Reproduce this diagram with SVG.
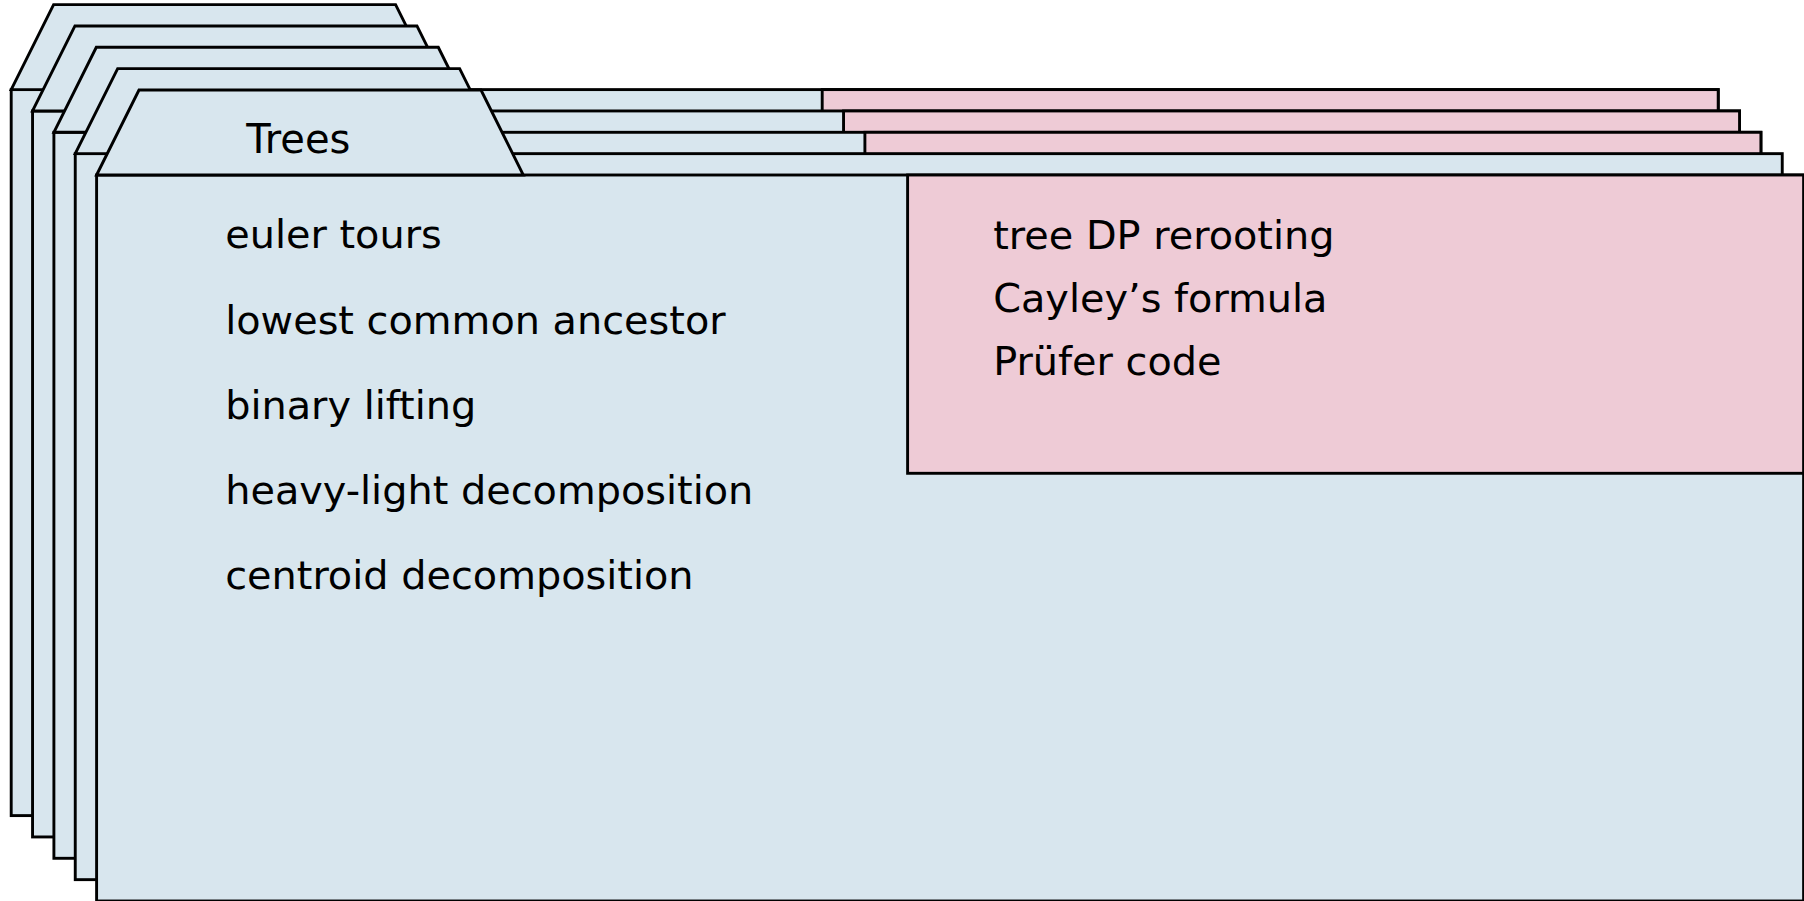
<svg xmlns="http://www.w3.org/2000/svg" width="1804" height="901" viewBox="0 0 1804 901">
  <style>
    .body { fill: #d8e6ee; stroke: #000; stroke-width: 2.9; }
    .tab { fill: #d8e6ee; stroke: #000; stroke-width: 2.9; stroke-linejoin: miter; }
    .note { fill: #eecbd6; stroke: #000; stroke-width: 2.9; }
    .title { font-family: "DejaVu Sans", sans-serif; font-size: 40px; fill: #000; }
    .item { font-family: "DejaVu Sans", sans-serif; font-size: 39.8px; fill: #000; }
  </style>
  <defs>
    <!-- one folder card: body, tab on top; origin at the body's top-left corner -->
    <rect id="card-body" x="0" y="0" width="1707" height="726"/>
    <polygon id="card-tab" points="0,0 42.4,-85 384.4,-85 426.7,0"/>
    <rect id="card-note" x="811" y="0" width="896" height="298.3"/>
  </defs>

  <g id="card-0" transform="translate(11.2,89.6)">
    <use href="#card-body" class="body"/>
    <use href="#card-tab" class="tab"/>
    <use href="#card-note" class="note"/>
  </g>

  <g id="card-1" transform="translate(32.55,110.95)">
    <use href="#card-body" class="body"/>
    <use href="#card-tab" class="tab"/>
    <use href="#card-note" class="note"/>
  </g>

  <g id="card-2" transform="translate(53.9,132.3)">
    <use href="#card-body" class="body"/>
    <use href="#card-tab" class="tab"/>
    <use href="#card-note" class="note"/>
  </g>

  <g id="card-3" transform="translate(75.25,153.65)">
    <use href="#card-body" class="body"/>
    <use href="#card-tab" class="tab"/>
  </g>

  <g id="card-trees" transform="translate(96.6,175)">
    <use href="#card-body" class="body"/>
    <use href="#card-tab" class="tab"/>
    <text class="title" x="149.6" y="-21.7">Trees</text>
    <text class="item" x="128.6" y="73.3">euler tours</text>
    <text class="item" x="128.6" y="158.5">lowest common ancestor</text>
    <text class="item" x="128.6" y="243.7">binary lifting</text>
    <text class="item" x="128.6" y="328.9">heavy-light decomposition</text>
    <text class="item" x="128.6" y="414.1">centroid decomposition</text>
    <g id="trees-note">
      <use href="#card-note" class="note"/>
      <text class="item" x="896.6" y="74.3">tree DP rerooting</text>
      <text class="item" x="896.6" y="137.3">Cayley’s formula</text>
      <text class="item" x="896.6" y="200.3">Prüfer code</text>
    </g>
  </g>

  <g id="connectors"/>
</svg>
